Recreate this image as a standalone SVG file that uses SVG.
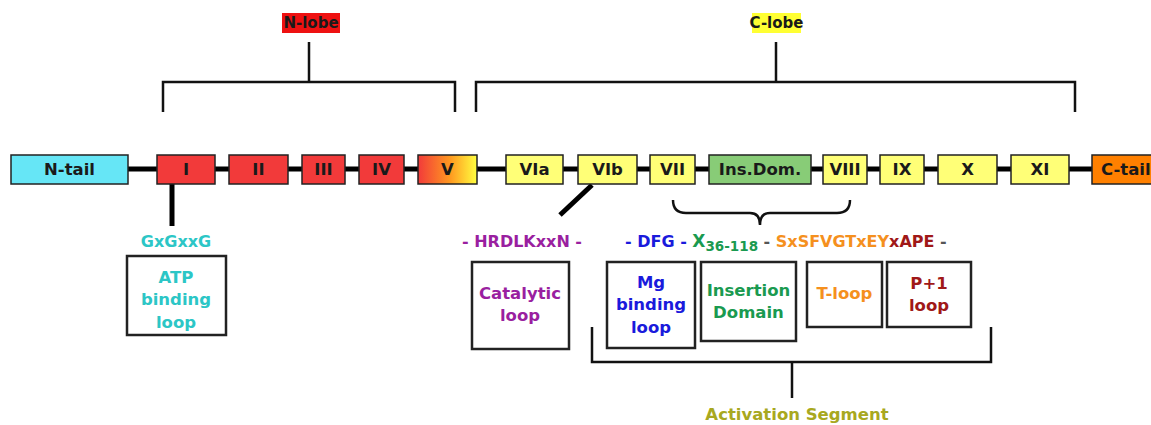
<svg xmlns="http://www.w3.org/2000/svg" width="1151" height="425" viewBox="0 0 1151 425">
  <style>
    text { font-family: "DejaVu Sans", Verdana, sans-serif; font-weight: bold; }
    .seg { stroke: #222; stroke-width: 1.5; }
    .segt { font-size: 16.5px; fill: #1a1a1a; text-anchor: middle; }
    .lobe { font-size: 15px; fill: #1a1a1a; text-anchor: middle; }
    .brk { fill: none; stroke: #111; stroke-width: 2.5; }
    .box { fill: #fff; stroke: #222; stroke-width: 2.5; }
    .lbl { font-size: 16.5px; text-anchor: middle; }
    .mot { font-size: 16px; }
    .red { fill: #f23a3a; }
    .yel { fill: #ffff77; }
  </style>
  <defs>
    <linearGradient id="redToYellow" x1="0" y1="0" x2="1" y2="0">
      <stop offset="0" stop-color="#f23a3a"/>
      <stop offset="0.55" stop-color="#ff9a20"/>
      <stop offset="1" stop-color="#ffff40"/>
    </linearGradient>
  </defs>

  <rect width="1151" height="425" fill="#fff"/>

  <!-- connectors -->
  <g id="connectors">
    <!-- backbone -->
    <line x1="11" y1="169" x2="1151" y2="169" stroke="#000" stroke-width="5"/>
    <!-- lobe brackets -->
    <path class="brk" d="M163 112 V82 H455 V112 M309 82 V42"/>
    <path class="brk" d="M476 112 V82 H1075 V112 M776 82 V42"/>
    <!-- motif leaders -->
    <line x1="172" y1="184" x2="172" y2="226" stroke="#000" stroke-width="5"/>
    <line x1="592" y1="185" x2="560" y2="215" stroke="#000" stroke-width="5"/>
    <!-- VII-VIII brace -->
    <path class="brk" stroke-width="3" d="M673 200 Q673 213 686 213 H750 Q760 213 760 225 Q760 213 770 213 H837 Q850 213 850 200"/>
    <!-- activation segment bracket -->
    <path class="brk" d="M592 327 V362 H991 V327 M792 362 V398"/>
  </g>

  <!-- lobe labels -->
  <g id="n-lobe">
    <rect x="282" y="13" width="58" height="20" fill="#ee1111"/>
    <text x="311" y="28" class="lobe">N-lobe</text>
  </g>
  <g id="c-lobe">
    <rect x="752" y="13" width="49" height="20" fill="#ffff33"/>
    <text x="776.5" y="28" class="lobe">C-lobe</text>
  </g>

  <!-- kinase subdomains -->
  <g id="n-tail"><rect class="seg" x="11" y="155" width="117" height="29" fill="#66e6f6"/><text class="segt" x="69.5" y="175">N-tail</text></g>
  <g id="sub-I"><rect class="seg red" x="157" y="155" width="58" height="29"/><text class="segt" x="186" y="175">I</text></g>
  <g id="sub-II"><rect class="seg red" x="229" y="155" width="59" height="29"/><text class="segt" x="258.5" y="175">II</text></g>
  <g id="sub-III"><rect class="seg red" x="302" y="155" width="43" height="29"/><text class="segt" x="323.5" y="175">III</text></g>
  <g id="sub-IV"><rect class="seg red" x="359" y="155" width="45" height="29"/><text class="segt" x="381.5" y="175">IV</text></g>
  <g id="sub-V"><rect class="seg" x="418" y="155" width="59" height="29" fill="url(#redToYellow)"/><text class="segt" x="447.5" y="175">V</text></g>
  <g id="sub-VIa"><rect class="seg yel" x="506" y="155" width="57" height="29"/><text class="segt" x="534.5" y="175">VIa</text></g>
  <g id="sub-VIb"><rect class="seg yel" x="578" y="155" width="59" height="29"/><text class="segt" x="607.5" y="175">VIb</text></g>
  <g id="sub-VII"><rect class="seg yel" x="650" y="155" width="45" height="29"/><text class="segt" x="672.5" y="175">VII</text></g>
  <g id="ins-dom"><rect class="seg" x="709" y="155" width="102" height="29" fill="#88cc77"/><text class="segt" x="760" y="175">Ins.Dom.</text></g>
  <g id="sub-VIII"><rect class="seg yel" x="823" y="155" width="44" height="29"/><text class="segt" x="845" y="175">VIII</text></g>
  <g id="sub-IX"><rect class="seg yel" x="880" y="155" width="44" height="29"/><text class="segt" x="902" y="175">IX</text></g>
  <g id="sub-X"><rect class="seg yel" x="938" y="155" width="59" height="29"/><text class="segt" x="967.5" y="175">X</text></g>
  <g id="sub-XI"><rect class="seg yel" x="1011" y="155" width="58" height="29"/><text class="segt" x="1040" y="175">XI</text></g>
  <g id="c-tail"><rect class="seg" x="1092" y="155" width="70" height="29" fill="#ff8000"/><text class="segt" x="1101" y="175" style="text-anchor:start">C-tail</text></g>

  <!-- ATP binding loop -->
  <g id="atp-loop">
    <text class="mot" x="176" y="247" text-anchor="middle" fill="#2cc6c6">GxGxxG</text>
    <rect class="box" x="127" y="256" width="99" height="79"/>
    <text class="lbl" fill="#2cc6c6" x="176" y="283">ATP</text>
    <text class="lbl" fill="#2cc6c6" x="176" y="305">binding</text>
    <text class="lbl" fill="#2cc6c6" x="176" y="328">loop</text>
  </g>

  <!-- catalytic loop -->
  <g id="catalytic-loop">
    <text class="mot" x="522" y="247" text-anchor="middle" fill="#9a1fa0">- HRDLKxxN -</text>
    <rect class="box" x="472" y="262" width="97" height="87"/>
    <text class="lbl" fill="#9a1fa0" x="520" y="299">Catalytic</text>
    <text class="lbl" fill="#9a1fa0" x="520" y="321">loop</text>
  </g>

  <!-- activation segment motif -->
  <g id="activation-motif">
    <text class="mot" x="625" y="247"><tspan fill="#1a1adc">- DFG - </tspan><tspan fill="#1a9a50" font-size="17">X</tspan><tspan fill="#1a9a50" font-size="13.5" dy="4">36-118</tspan><tspan fill="#555" dy="-4"> - </tspan><tspan fill="#f5901e">SxSFVGTxEY</tspan><tspan fill="#a01818">xAPE</tspan><tspan fill="#555"> -</tspan></text>
  </g>
  <g id="mg-loop">
    <rect class="box" x="607" y="262" width="88" height="86"/>
    <text class="lbl" fill="#1a1adc" x="651" y="288">Mg</text>
    <text class="lbl" fill="#1a1adc" x="651" y="310">binding</text>
    <text class="lbl" fill="#1a1adc" x="651" y="333">loop</text>
  </g>
  <g id="insertion-domain">
    <rect class="box" x="701" y="262" width="95" height="79"/>
    <text class="lbl" fill="#1a9a50" x="748.5" y="296">Insertion</text>
    <text class="lbl" fill="#1a9a50" x="748.5" y="318">Domain</text>
  </g>
  <g id="t-loop">
    <rect class="box" x="807" y="262" width="75" height="65"/>
    <text class="lbl" fill="#f5901e" x="844.5" y="299">T-loop</text>
  </g>
  <g id="p1-loop">
    <rect class="box" x="887" y="262" width="84" height="65"/>
    <text class="lbl" fill="#a01818" x="929" y="289">P+1</text>
    <text class="lbl" fill="#a01818" x="929" y="311">loop</text>
  </g>
  <g id="activation-segment">
    <text class="lbl" fill="#a8a820" x="797" y="420">Activation Segment</text>
  </g>
</svg>
